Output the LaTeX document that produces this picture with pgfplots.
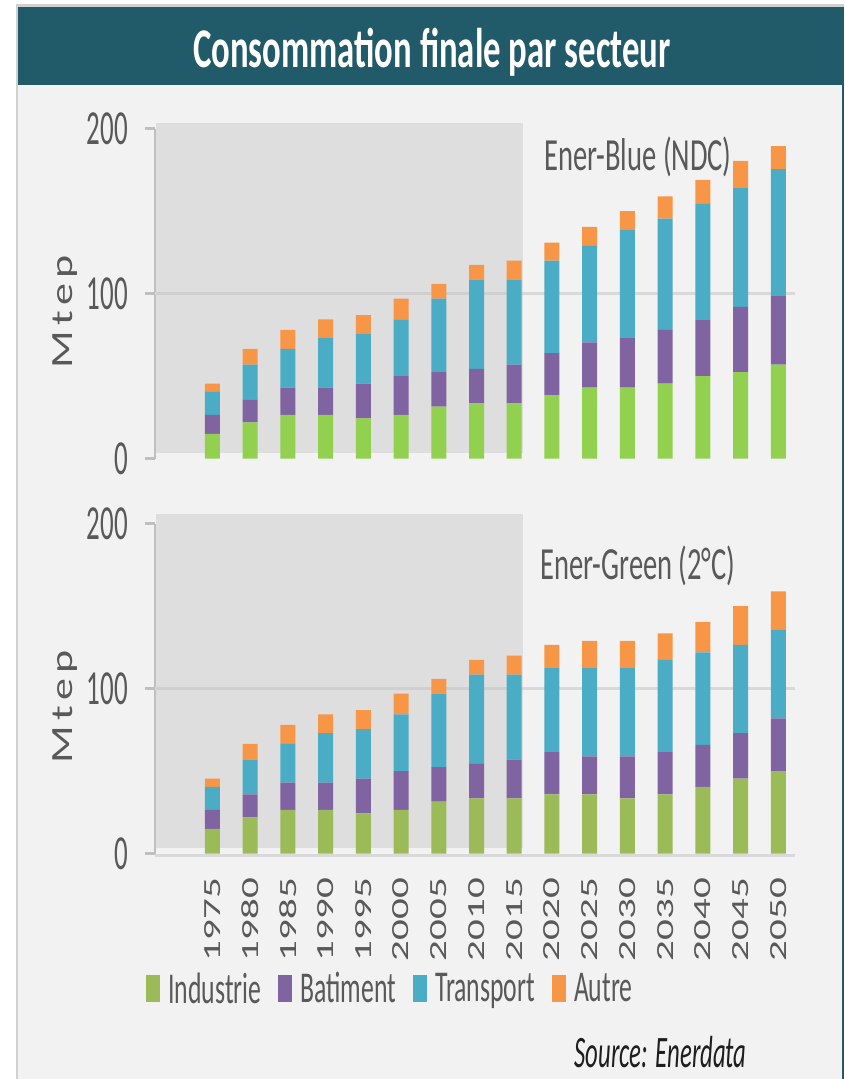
\documentclass[border=0pt]{standalone}
\usepackage{graphicx}
\usepackage{pgfplots}
\usepackage{pgfplotstable}
\pgfplotsset{compat=1.18}
\usepackage{fontspec}
\setmainfont{Carlito}[FakeStretch=0.55]
\newfontfamily\plainfont{Carlito}
\newfontfamily\widefont{Carlito}[FakeStretch=0.62]
\newfontfamily\legfont{Carlito}[FakeStretch=0.585]

\definecolor{titlebar}{RGB}{33,90,104}
\definecolor{panel}{RGB}{242,242,242}
\definecolor{frame}{RGB}{208,208,208}
\definecolor{txt}{RGB}{89,89,89}
\definecolor{srctxt}{RGB}{30,30,30}
\definecolor{indA}{HTML}{92D050}
\definecolor{indB}{HTML}{9BBB59}
\definecolor{bat}{HTML}{8064A2}
\definecolor{tra}{HTML}{4BACC6}
\definecolor{aut}{HTML}{F79646}
\definecolor{axisgray}{RGB}{191,191,191}
\definecolor{gridgray}{RGB}{217,217,217}
\definecolor{shadegray}{RGB}{192,192,192}

% Final consumption by sector (Mtep), 1975-2050, x = 0..15
\pgfplotstableread{
x  ind  bat  tra  aut
0  15   11.5 14   5
1  22   14   21   9.5
2  26.5 16.5 23.5 11.5
3  26.5 16.5 30   11.5
4  24.5 21   30   11.5
5  26.5 23.5 34.5 12.5
6  31.5 21   44.5 9
7  33.5 21   54   9
8  33.5 23.5 51.5 11.5
9  38.5 25.5 56   11
10 43   27.5 58.5 11.5
11 43   30   65.5 11.5
12 45.5 32.5 67.5 13.5
13 50   34.5 70   14.5
14 52.5 39.5 72   16.5
15 57   41.5 77   14
}\blue

\pgfplotstableread{
x  ind  bat  tra  aut
0  15   11.5 14   5
1  22   14   21   9.5
2  26.5 16.5 23.5 11.5
3  26.5 16.5 30   11.5
4  24.5 21   30   11.5
5  26.5 23.5 34.5 12.5
6  31.5 21   44.5 9
7  33.5 21   54   9
8  33.5 23.5 51.5 11.5
9  36   25.5 51   14
10 36   23   53.5 16.5
11 33.5 25.5 53.5 16.5
12 36   25.5 56   16
13 40.5 25.5 56   18.5
14 45.5 27.5 53.5 23.5
15 50   32   54   23
}\green

\newcommand\rl[1]{\scalebox{1}[0.6]{\fontsize{41}{41}\plainfont #1}}

\pgfplotsset{
  chart/.style={
    scale only axis, width=640pt, height=330pt,
    xmin=-1.52, xmax=15.44, ymin=0, ymax=200,
    clip=false,
    ybar stacked, bar width=15pt,
    axis lines*=left,
    y axis line style={axisgray, line width=2pt},
    x axis line style={draw=none},
    ytick={0,100,200},
    xtick={0,...,15},
    extra y ticks={100}, extra y tick labels={},
    extra y tick style={grid=major, major grid style={gridgray, line width=3.5pt}},
    major tick length=10pt, tick align=outside,
    ytick style={axisgray, line width=3.5pt},
    xtick style={draw=none},
    /pgf/number format/assume math mode=true,
    yticklabel style={font=\fontsize{49}{49}\selectfont, text=txt, inner sep=0pt, xshift=-17pt},
    every axis y label/.style={at={(axis description cs:-0.1406,0.4445)}, rotate=90, anchor=center, text=txt},
    ylabel={\scalebox{1}[0.7]{\fontsize{44}{44}\plainfont M\hspace{5pt}t\hspace{5pt}e\hspace{5pt}p}},
  },
}

\begin{document}
\begin{tikzpicture}[x=1pt,y=1pt]
  % panel and title bar
  \fill[white] (0,0) rectangle (844,1079);
  \fill[frame] (16,0) rectangle (844,1075);
  \fill[panel] (18,0) rectangle (844,1072);
  \fill[titlebar] (18,994) rectangle (844,1072);
  \fill[titlebar] (842,0) rectangle (844,1072);
  \node[font=\widefont\bfseries\fontsize{56}{56}\selectfont, text=white, anchor=base] at (432,1011) {Consommation finale par secteur};

  % Ener-Blue scenario
  \begin{axis}[chart, at={(155pt,620.3pt)}, anchor=south west, xticklabels={}]
    \addplot[fill=indA, draw=none] table[x=x, y=ind] {\blue};
    \addplot[fill=bat, draw=none] table[x=x, y=bat] {\blue};
    \addplot[fill=tra, draw=none] table[x=x, y=tra] {\blue};
    \addplot[fill=aut, draw=none] table[x=x, y=aut] {\blue};
    \fill[shadegray, opacity=0.4] (axis cs:-1.497,3.6) rectangle (axis cs:8.222,203.5);
    \node[text=txt, font=\widefont\fontsize{46}{46}\selectfont] at (axis cs:11.28,183) {Ener-Blue (NDC)};
  \end{axis}

  % Ener-Green scenario
  \begin{axis}[chart, at={(155pt,225.3pt)}, anchor=south west,
      x axis line style={draw=gridgray, line width=3.7pt, yshift=-1.8pt},
      xticklabels={\rl{1975},\rl{1980},\rl{1985},\rl{1990},\rl{1995},\rl{2000},\rl{2005},\rl{2010},
                   \rl{2015},\rl{2020},\rl{2025},\rl{2030},\rl{2035},\rl{2040},\rl{2045},\rl{2050}},
      xticklabel style={rotate=90, anchor=east, text=txt, inner sep=0pt},
      xticklabel shift=14pt,
      legend columns=4,
      legend style={at={(axis description cs:-0.014,-0.4085)}, anchor=west, draw=none, fill=none,
        inner sep=0pt, font=\legfont\fontsize{44}{44}\selectfont, text=txt,
        nodes={inner xsep=8pt},
        /tikz/every even column/.append style={column sep=9pt}},
      legend image code/.code={\fill[#1] (0pt,-13.5pt) rectangle (14pt,13.5pt);},
    ]
    \addplot[fill=indB, draw=none] table[x=x, y=ind] {\green};
    \addlegendentry{Industrie}
    \addplot[fill=bat, draw=none] table[x=x, y=bat] {\green};
    \addlegendentry{Batiment}
    \addplot[fill=tra, draw=none] table[x=x, y=tra] {\green};
    \addlegendentry{Transport}
    \addplot[fill=aut, draw=none] table[x=x, y=aut] {\green};
    \addlegendentry{Autre}
    \fill[shadegray, opacity=0.4] (axis cs:-1.497,3.6) rectangle (axis cs:8.222,205.9);
    \node[text=txt, font=\widefont\fontsize{46}{46}\selectfont] at (axis cs:11.28,174.4) {Ener-Green (2°C)};
  \end{axis}

  \node[font=\itshape\fontsize{45}{45}\selectfont, text=srctxt] at (660.5,27) {Source: Enerdata};
\end{tikzpicture}
\end{document}
